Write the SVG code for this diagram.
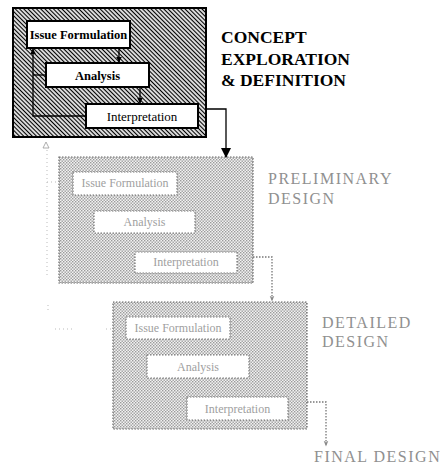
<svg xmlns="http://www.w3.org/2000/svg" width="440" height="471" viewBox="0 0 440 471">
  <defs>
    <!-- dense diagonal hatching for the active stage -->
    <pattern id="hatch" patternUnits="userSpaceOnUse" width="3" height="3" patternTransform="rotate(45)">
      <rect width="3" height="3" fill="#fff"/>
      <line x1="0" y1="1.5" x2="3" y2="1.5" stroke="#000" stroke-width="1.3"/>
    </pattern>
    <!-- halftone dots for the later, faded stages -->
    <pattern id="dots" patternUnits="userSpaceOnUse" width="3" height="3">
      <rect width="3" height="3" fill="#f2f2f2"/>
      <rect x="0" y="0" width="1.4" height="1.4" fill="#9a9a9a"/>
      <rect x="1.5" y="1.5" width="1.4" height="1.4" fill="#9a9a9a"/>
    </pattern>
    <marker id="arrowSolid" viewBox="0 0 10 10" refX="9" refY="5" markerWidth="6" markerHeight="6" orient="auto" markerUnits="userSpaceOnUse">
      <path d="M0,0 L10,5 L0,10 z" fill="#000"/>
    </marker>
    <marker id="arrowBig" viewBox="0 0 10 10" refX="9" refY="5" markerWidth="10" markerHeight="10" orient="auto" markerUnits="userSpaceOnUse">
      <path d="M0,0 L10,5 L0,10 z" fill="#000"/>
    </marker>
    <marker id="arrowFaint" viewBox="0 0 10 10" refX="9" refY="5" markerWidth="6" markerHeight="6" orient="auto" markerUnits="userSpaceOnUse">
      <path d="M0,1 L10,5 L0,9 L3,5 z" fill="#888"/>
    </marker>
    <style>
      .stageBox { fill: url(#hatch); stroke: #000; stroke-width: 2; }
      .fadedBox { fill: url(#dots); stroke: #666; stroke-width: 1.2; stroke-dasharray: 1.5 1.5; }
      .step { fill: #fff; stroke: #000; stroke-width: 2; }
      .fadedStep { fill: #fff; stroke: #777; stroke-width: 1.2; stroke-dasharray: 1.5 1.5; }
      .stepText { font-family: "Liberation Serif", "Times New Roman", serif; font-size: 13px; fill: #000; text-anchor: middle; }
      .bold { font-weight: bold; font-size: 12.5px; }
      .fadedText { font-family: "Liberation Serif", "Times New Roman", serif; font-size: 12px; fill: #a0a0a0; text-anchor: middle; }
      .title { font-family: "Liberation Serif", "Times New Roman", serif; font-size: 17.5px; font-weight: bold; fill: #000; }
      .fadedTitle { font-family: "Liberation Serif", "Times New Roman", serif; font-size: 16px; fill: #909090; letter-spacing: 1.5px; }
      .link { fill: none; stroke: #000; stroke-width: 1.3; }
      .fadedLink { fill: none; stroke: #777; stroke-width: 1.3; stroke-dasharray: 1.5 1.5; }
      .ghostLink { fill: none; stroke: #bbb; stroke-width: 1; stroke-dasharray: 1 3; }
    </style>
  </defs>

  <rect width="440" height="471" fill="#fff"/>

  <!-- Stage 1: concept exploration & definition -->
  <g id="stage-concept">
    <rect class="stageBox" x="13" y="8" width="193" height="129"/>
  </g>
  <g id="concept-issue">
    <rect class="step" x="27" y="21" width="103" height="27"/>
    <text class="stepText bold" x="78.5" y="39">Issue Formulation</text>
  </g>
  <g id="concept-analysis">
    <rect class="step" x="46" y="63" width="103" height="24"/>
    <text class="stepText bold" x="97.5" y="80">Analysis</text>
  </g>
  <g id="concept-interpretation">
    <rect class="step" x="86" y="104" width="112" height="24"/>
    <text class="stepText" x="142" y="121">Interpretation</text>
  </g>
  <g id="label-concept">
    <text class="title" x="221" y="43">CONCEPT</text>
    <text class="title" x="221" y="65">EXPLORATION</text>
    <text class="title" x="221" y="86">&amp; DEFINITION</text>
  </g>

  <!-- Stage 2: preliminary design -->
  <g id="stage-preliminary">
    <rect class="fadedBox" x="59" y="157" width="194" height="126"/>
  </g>
  <g id="prelim-issue">
    <rect class="fadedStep" x="73" y="172" width="104" height="23"/>
    <text class="fadedText" x="125" y="187">Issue Formulation</text>
  </g>
  <g id="prelim-analysis">
    <rect class="fadedStep" x="94" y="211" width="101" height="22"/>
    <text class="fadedText" x="144.5" y="226">Analysis</text>
  </g>
  <g id="prelim-interpretation">
    <rect class="fadedStep" x="135" y="252" width="102" height="21"/>
    <text class="fadedText" x="186" y="266">Interpretation</text>
  </g>
  <g id="label-preliminary">
    <text class="fadedTitle" x="268" y="184">PRELIMINARY</text>
    <text class="fadedTitle" x="268" y="204">DESIGN</text>
  </g>

  <!-- Stage 3: detailed design -->
  <g id="stage-detailed">
    <rect class="fadedBox" x="113" y="302" width="194" height="127"/>
  </g>
  <g id="detailed-issue">
    <rect class="fadedStep" x="126" y="317" width="104" height="22"/>
    <text class="fadedText" x="178" y="332">Issue Formulation</text>
  </g>
  <g id="detailed-analysis">
    <rect class="fadedStep" x="147" y="355" width="102" height="23"/>
    <text class="fadedText" x="198" y="371">Analysis</text>
  </g>
  <g id="detailed-interpretation">
    <rect class="fadedStep" x="187" y="397" width="101" height="23"/>
    <text class="fadedText" x="237.5" y="413">Interpretation</text>
  </g>
  <g id="label-detailed">
    <text class="fadedTitle" x="322" y="328">DETAILED</text>
    <text class="fadedTitle" x="322" y="347">DESIGN</text>
  </g>

  <g id="label-final">
    <text class="fadedTitle" x="314" y="462">FINAL DESIGN</text>
  </g>

  <!-- Connectors -->
  <g id="connectors">
    <!-- stage 1 internal flow and feedback loop -->
    <path class="link" d="M119,48 V62" marker-end="url(#arrowSolid)"/>
    <path class="link" d="M140,87 V103" marker-end="url(#arrowSolid)"/>
    <path class="link" d="M86,116 H33 V49" marker-end="url(#arrowSolid)"/>
    <path class="link" d="M46,75 H33"/>
    <!-- stage 1 to stage 2 -->
    <path class="link" d="M206,109 H226 V157" marker-end="url(#arrowBig)"/>

    <!-- faded internal flow -->
    <path class="ghostLink" d="M165,195 V211"/>
    <path class="ghostLink" d="M186,233 V252"/>
    <path class="ghostLink" d="M218,339 V355"/>
    <path class="ghostLink" d="M236,378 V397"/>
    <!-- faded feedback loops -->
    <path class="ghostLink" d="M47,150 V275"/>
    <path class="ghostLink" d="M47,182 H59"/>
    <path d="M43,148 L46,142 L49,148 z" fill="none" stroke="#999" stroke-width="0.8"/>
    <path class="ghostLink" d="M48,305 V312"/>
    <path class="ghostLink" d="M55,329 H73"/>
    <path class="ghostLink" d="M106,329 H113"/>

    <!-- stage 2 to stage 3, stage 3 to final design -->
    <path class="fadedLink" d="M253,257 H272 V301" marker-end="url(#arrowFaint)"/>
    <path class="fadedLink" d="M307,402 H326 V446" marker-end="url(#arrowFaint)"/>
  </g>
</svg>
